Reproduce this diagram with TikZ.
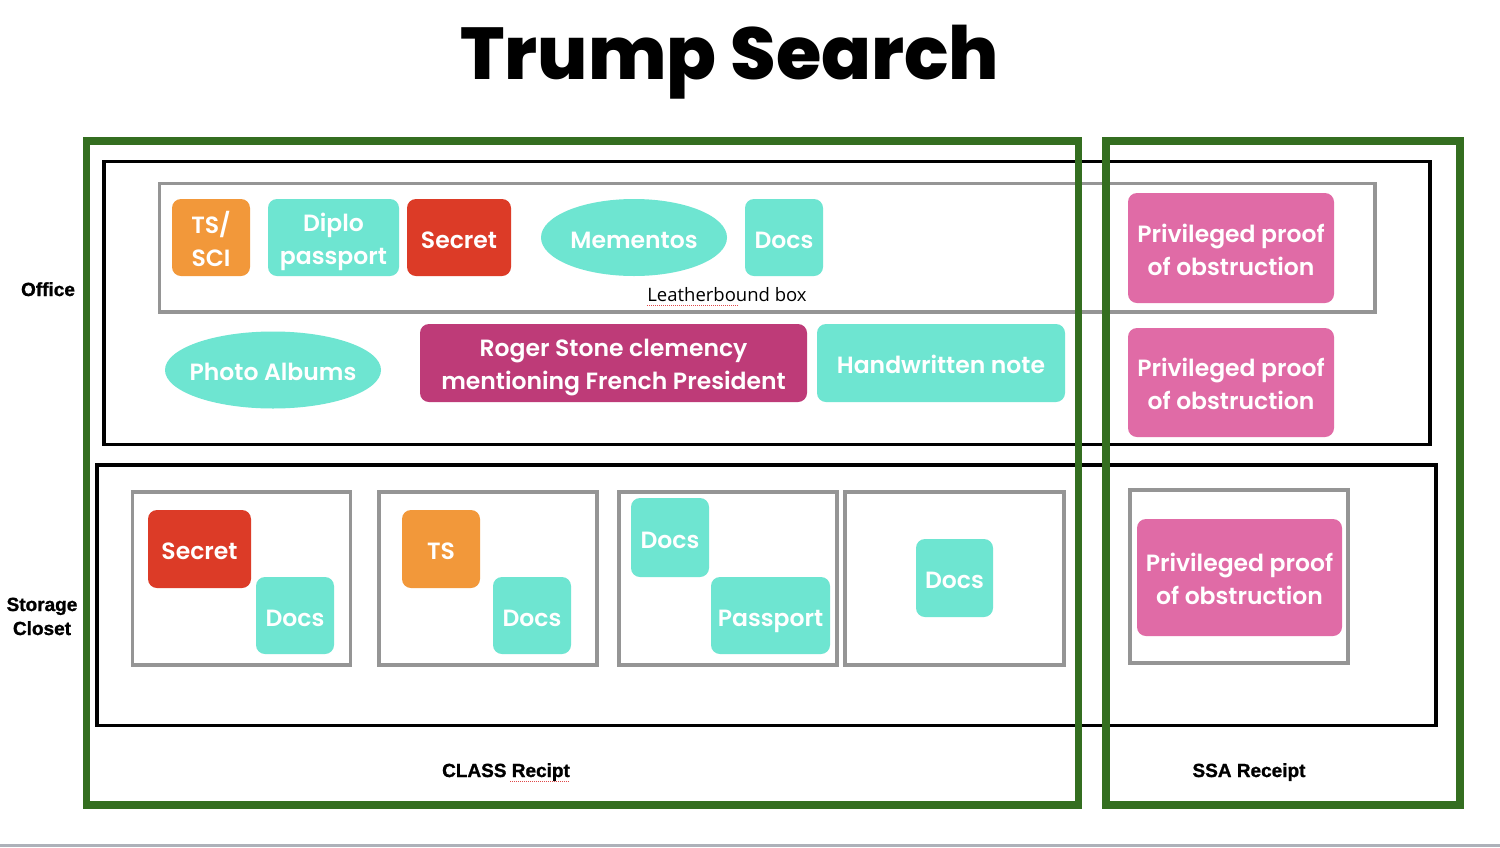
\documentclass[tikz,border=0pt]{standalone}
\usepackage{fontspec}
\setmainfont{Poppins}[UprightFont=* SemiBold, BoldFont=* ExtraBold]
\newfontfamily\labelfont{Liberation Sans}[UprightFont=* Bold, UprightFeatures={FakeBold=1.2}]
\newfontfamily\smallfont{Open Sans}
\usetikzlibrary{shapes.geometric}
\definecolor{teal}{HTML}{6EE5D1}
\definecolor{orng}{HTML}{F2983A}
\definecolor{redb}{HTML}{DC3B27}
\definecolor{magn}{HTML}{BE3B78}
\definecolor{pinkb}{HTML}{E06BA6}
\definecolor{grn}{HTML}{346E20}
\definecolor{grayline}{HTML}{959595}
\definecolor{graybar}{HTML}{ADB1B9}
\definecolor{spell}{HTML}{E04848}
\tikzset{
  boxtext/.style={text=white, inner sep=0pt, align=center,
    font=\fontsize{23.5}{33}\selectfont,
    execute at begin node={\rule{0pt}{29pt}},
    execute at end node={\rule[-7.4pt]{0pt}{7.4pt}}},
  twotext/.style={boxtext, yshift=-5pt},
  item/.style={boxtext, rounded corners=9pt},
  oval/.style={boxtext, ellipse, fill=teal},
  frame/.style={draw=black, line width=3.3pt, inner sep=0pt},
  graybox/.style={draw=grayline, line width=3.5pt, inner sep=0pt},
  greenbox/.style={draw=grn, line width=7.5pt, inner sep=0pt},
  lbl/.style={font=\labelfont\fontsize{19}{24}\selectfont, align=center},
  spellmark/.style={draw=spell, line width=0.8pt, dash pattern=on 1pt off 1pt},
}
\begin{document}
\begin{tikzpicture}[x=1pt,y=-1pt]
\useasboundingbox (0,0) rectangle (1500,847);
\fill[white] (0,0) rectangle (1500,847);
\fill[graybar] (0,844) rectangle (1500,847);

% title
\node[anchor=base, font=\bfseries\fontsize{73.5}{80}\selectfont] (title) at (730,79) {Trump Search};

% containers
\node[frame, minimum width=1326pt, minimum height=283pt] (office) at (767,303.3) {};
\node[frame, minimum width=1339pt, minimum height=260.5pt] (storage) at (766.5,595.2) {};
\node[graybox, minimum width=1215.5pt, minimum height=128.3pt] (leather) at (767.25,247.85) {};

\node[graybox, minimum width=218pt, minimum height=173pt] (sb1) at (241.5,578.5) {};
\node[graybox, minimum width=218pt, minimum height=173pt] (sb2) at (488,578.5) {};
\node[graybox, minimum width=218pt, minimum height=173pt] (sb3) at (728,578.5) {};
\node[graybox, minimum width=219pt, minimum height=173pt] (sb4) at (954.5,578.5) {};
\node[graybox, minimum width=218pt, minimum height=173pt] (sb5) at (1239,576.5) {};

% office items
\node[item, fill=orng, minimum width=78pt, minimum height=77pt,
  label={[twotext]center:{TS/\\SCI}}] (tssci) at (211,237.5) {};
\node[item, fill=teal, minimum width=131pt, minimum height=77pt,
  label={[twotext]center:{Diplo\\passport}}] (diplo) at (333.5,237.5) {};
\node[item, fill=redb, minimum width=104pt, minimum height=77pt] (secret1) at (459,237.5) {Secret};
\node[oval, minimum width=186pt, minimum height=77pt] (mementos) at (634,237.5) {\makebox[0pt]{Mementos}};
\node[item, fill=teal, minimum width=78pt, minimum height=77pt] (docs1) at (784,237.5) {Docs};
\node[anchor=base, font=\smallfont\fontsize{18.5}{20}\selectfont] (leatherlbl) at (727,301) {Leatherbound box};
\draw[spellmark] (647,305) -- (738,305);

\node[oval, minimum width=216pt, minimum height=77pt] (photo) at (273,370) {\makebox[0pt]{Photo Albums}};
\node[item, fill=magn, minimum width=387pt, minimum height=78pt,
  label={[twotext]center:{Roger Stone clemency\\mentioning French President}}] (roger) at (613.5,363) {};
\node[item, fill=teal, minimum width=248pt, minimum height=78pt] (hand) at (941,363) {Handwritten note};

\node[item, fill=pinkb, minimum width=206pt, minimum height=110pt,
  label={[twotext]center:{Privileged proof\\of obstruction}}] (priv1) at (1231,248) {};
\node[item, fill=pinkb, minimum width=206pt, minimum height=109pt,
  label={[twotext]center:{Privileged proof\\of obstruction}}] (priv2) at (1231,382.5) {};

% storage items
\node[item, fill=redb, minimum width=103pt, minimum height=78pt] (secret2) at (199.5,549) {Secret};
\node[item, fill=teal, minimum width=78pt, minimum height=77pt] (docs2) at (295,615.5) {Docs};
\node[item, fill=orng, minimum width=78pt, minimum height=78pt] (ts) at (441,549) {TS};
\node[item, fill=teal, minimum width=78pt, minimum height=77pt] (docs3) at (532,615.5) {Docs};
\node[item, fill=teal, minimum width=78pt, minimum height=79pt] (docs4) at (670,537.5) {Docs};
\node[item, fill=teal, minimum width=119pt, minimum height=77pt] (passport) at (770.5,615.5) {Passport};
\node[item, fill=teal, minimum width=77pt, minimum height=78pt] (docs5) at (954.5,578) {Docs};
\node[item, fill=pinkb, minimum width=205pt, minimum height=117pt,
  label={[twotext]center:{Privileged proof\\of obstruction}}] (priv3) at (1239.5,577.5) {};

% receipts (green)
\node[greenbox, minimum width=992pt, minimum height=664pt] (classr) at (582.5,473) {};
\node[greenbox, minimum width=354pt, minimum height=664pt] (ssar) at (1283,473) {};

% labels
\node[lbl, anchor=base] (officelbl) at (48,296) {Office};
\node[lbl, anchor=base] (storagelbl) at (42,611) {Storage};
\node[lbl, anchor=base] (closetlbl) at (42,635) {Closet};
\node[lbl, anchor=base] (classlbl) at (506,777) {CLASS Recipt};
\draw[spellmark] (510,781) -- (569,781);
\node[lbl, anchor=base] (ssalbl) at (1249,777) {SSA Receipt};
\end{tikzpicture}
\end{document}
